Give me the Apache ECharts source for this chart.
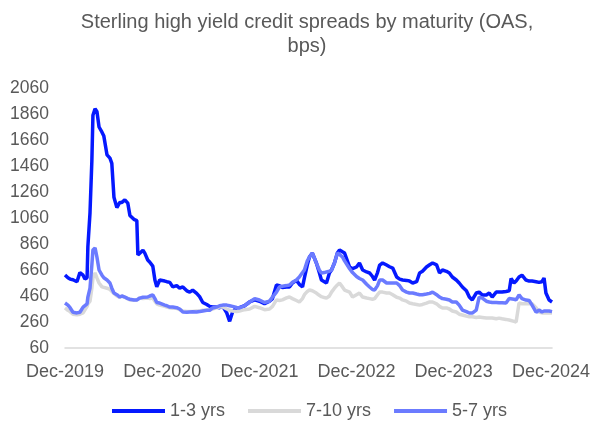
<!DOCTYPE html>
<html>
<head>
<meta charset="utf-8">
<script src="https://cdn.jsdelivr.net/npm/echarts@6/dist/echarts.min.js"></script>
<style>
html,body{margin:0;padding:0;background:#fff;}
#chart{width:593px;height:424px;}
</style>
</head>
<body>
<div id="chart"></div>
<script>
const dates = ['2019-12-01','2019-12-12','2019-12-20','2019-12-31','2020-01-15','2020-01-26','2020-02-07','2020-02-14','2020-02-22','2020-02-25','2020-03-04','2020-03-11','2020-03-15','2020-03-23','2020-03-30','2020-04-07','2020-04-18','2020-04-25','2020-05-07','2020-05-18','2020-05-25','2020-06-02','2020-06-13','2020-06-24','2020-07-02','2020-07-13','2020-07-24','2020-08-01','2020-08-16','2020-08-27','2020-08-31','2020-09-07','2020-09-19','2020-09-26','2020-10-07','2020-10-15','2020-10-26','2020-11-03','2020-11-10','2020-11-21','2020-12-10','2020-12-18','2020-12-29','2021-01-09','2021-01-24','2021-02-04','2021-02-16','2021-03-03','2021-03-14','2021-03-25','2021-04-09','2021-04-20','2021-05-02','2021-05-17','2021-05-28','2021-06-08','2021-06-23','2021-07-04','2021-07-16','2021-07-31','2021-08-11','2021-08-22','2021-09-06','2021-09-17','2021-10-06','2021-10-25','2021-11-13','2021-11-20','2021-12-01','2021-12-20','2022-01-08','2022-01-19','2022-02-03','2022-02-14','2022-02-25','2022-03-13','2022-03-24','2022-04-04','2022-04-19','2022-04-30','2022-05-12','2022-05-19','2022-05-30','2022-06-07','2022-06-18','2022-07-03','2022-07-14','2022-07-22','2022-08-02','2022-08-10','2022-08-21','2022-08-29','2022-09-09','2022-09-20','2022-09-28','2022-10-09','2022-10-17','2022-11-05','2022-11-16','2022-12-01','2022-12-12','2022-12-24','2023-01-08','2023-01-19','2023-01-30','2023-02-07','2023-02-18','2023-02-26','2023-03-09','2023-03-24','2023-04-04','2023-04-16','2023-05-01','2023-05-12','2023-05-23','2023-06-07','2023-06-18','2023-06-30','2023-07-15','2023-07-26','2023-08-06','2023-08-21','2023-09-02','2023-09-13','2023-09-28','2023-10-09','2023-10-20','2023-11-04','2023-11-15','2023-11-26','2023-12-11','2023-12-22','2024-01-03','2024-01-18','2024-01-29','2024-02-09','2024-02-24','2024-03-06','2024-03-18','2024-04-02','2024-04-13','2024-04-24','2024-05-09','2024-05-20','2024-05-31','2024-06-15','2024-06-27','2024-07-04','2024-07-15','2024-07-23','2024-08-03','2024-08-14','2024-08-29','2024-09-10','2024-09-21','2024-10-06','2024-10-17','2024-10-28','2024-11-05','2024-11-12','2024-11-24','2024-12-05'];

const yrs13 = [621,600,590,585,570,640,620,590,600,840,1100,1500,1850,1900,1880,1760,1720,1690,1545,1520,1480,1220,1140,1180,1180,1200,1175,1080,1050,1040,775,765,812,790,737,720,690,583,530,583,575,570,565,530,540,520,530,500,490,505,480,455,410,395,380,375,375,370,380,330,265,337,370,370,385,414,430,440,420,400,420,440,545,540,525,530,530,560,580,550,530,600,700,760,790,714,640,583,570,560,637,660,714,790,814,800,790,683,670,683,714,660,645,637,610,583,640,698,714,698,685,675,606,590,583,580,575,560,570,637,650,683,700,714,700,637,660,650,637,606,583,560,529,500,452,430,483,490,468,468,483,452,490,490,490,495,500,595,560,575,606,620,583,575,575,570,565,570,598,483,429,414];

const yrs710 = [368,350,340,320,315,320,330,345,380,400,420,520,600,637,600,560,530,530,520,510,500,480,460,450,460,450,440,430,430,430,440,445,440,450,445,440,445,420,400,390,380,375,370,365,365,355,345,340,340,340,345,345,350,350,355,360,370,375,375,360,350,345,340,345,355,360,380,385,370,355,360,380,430,425,430,445,452,440,425,414,440,470,495,506,500,483,465,455,448,444,460,490,520,545,560,530,506,490,452,470,483,452,445,440,435,440,470,490,490,483,483,470,450,444,430,420,406,400,395,390,395,405,414,414,400,380,368,368,360,345,337,320,314,305,300,300,295,298,295,290,290,290,285,290,285,280,275,270,265,260,406,400,400,400,400,370,337,330,332,335,330,330];

const yrs57 = [406,390,370,335,330,335,375,370,400,452,520,700,814,830,760,660,620,600,583,560,520,483,470,452,460,452,440,435,429,430,440,444,450,460,452,460,468,440,410,406,390,385,375,375,370,360,337,335,337,338,337,340,345,350,350,368,375,385,390,390,385,380,372,368,385,414,440,444,429,410,420,452,490,529,535,540,545,565,583,606,640,660,730,760,790,714,660,637,640,645,650,660,714,790,780,760,730,670,640,610,595,583,550,529,510,506,540,583,583,560,560,560,560,540,506,490,483,483,475,470,470,475,480,490,470,452,440,435,429,414,414,390,352,340,329,329,352,452,444,420,414,410,410,408,408,406,440,444,435,430,468,440,429,425,390,335,352,337,345,350,345,340];

const seriesNames = ['1-3 yrs','7-10 yrs','5-7 yrs'];
const seriesColors = ['#0519ff','#d9d9d9','#6b7bff'];
const yTicks = [60,260,460,660,860,1060,1260,1460,1660,1860,2060];
const xTickDates = ['2019-12-01','2020-12-01','2021-12-01','2022-12-01','2023-12-01','2024-12-01'];
const xTickLabels = ['Dec-2019','Dec-2020','Dec-2021','Dec-2022','Dec-2023','Dec-2024'];

const toT = d => Date.parse(d + 'T00:00:00Z');
const xTickTimes = xTickDates.map(toT);
function pairs(vals){ return dates.map((d,i)=>[toT(d), vals[i]]); }
const allVals = [yrs13, yrs710, yrs57];

const chart = echarts.init(document.getElementById('chart'), null, {renderer:'canvas'});
const font = 'Liberation Sans, Arial, sans-serif';
chart.setOption({
  animation:false,
  backgroundColor:'#ffffff',
  title:{
    text:'Sterling high yield credit spreads by maturity (OAS,\nbps)',
    left:302, top:5, textAlign:'center',
    textStyle:{fontFamily:font, fontSize:20, fontWeight:'normal', color:'#595959', lineHeight:24}
  },
  grid:{left:65, right:40, top:88, bottom:76},
  legend:{
    top:397, left:107,
    icon:'rect', itemWidth:53, itemHeight:4, itemGap:23,
    textStyle:{fontFamily:font, fontSize:18, color:'#595959'},
    data:seriesNames
  },
  xAxis:{
    type:'value',
    min:toT(dates[0]), max:toT(dates[dates.length-1]),
    axisLine:{show:true, lineStyle:{color:'#d9d9d9', width:1.5}},
    axisTick:{show:false},
    splitLine:{show:false},
    axisLabel:{
      customValues: xTickTimes,
      fontFamily:font, fontSize:18, color:'#595959', margin:15,
      formatter: v => { const i = xTickTimes.indexOf(v); return i>=0 ? xTickLabels[i] : ''; }
    }
  },
  yAxis:{
    type:'value', min:60, max:2060,
    axisLine:{show:false}, axisTick:{show:false}, splitLine:{show:false},
    axisLabel:{customValues:yTicks, fontFamily:font, fontSize:17.5, color:'#595959', margin:16,
      formatter: v => String(v)}
  },
  series: seriesNames.map((n,k)=>({
    name:n, type:'line', data:pairs(allVals[k]), showSymbol:false, symbol:'none',
    lineStyle:{color:seriesColors[k], width:3.5}, itemStyle:{color:seriesColors[k]}
  }))
});
</script>
</body>
</html>
